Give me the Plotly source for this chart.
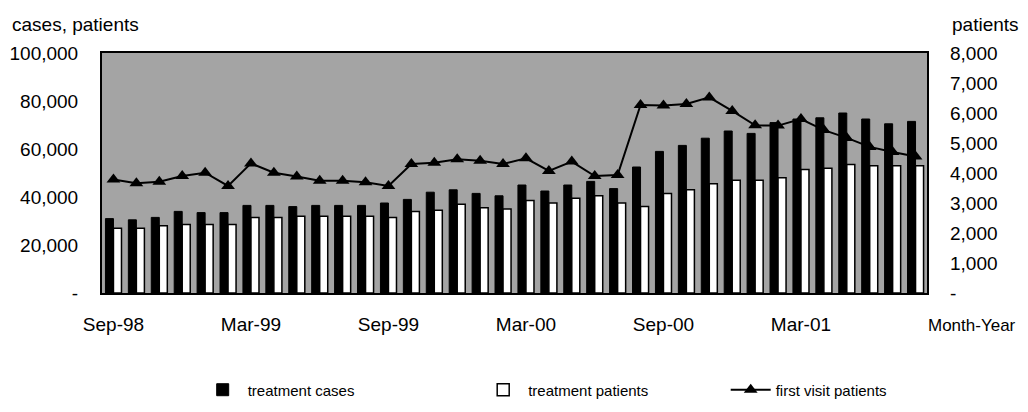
import plotly.graph_objects as go

months = ["Sep-98", "Oct-98", "Nov-98", "Dec-98", "Jan-99", "Feb-99",
          "Mar-99", "Apr-99", "May-99", "Jun-99", "Jul-99", "Aug-99",
          "Sep-99", "Oct-99", "Nov-99", "Dec-99", "Jan-00", "Feb-00",
          "Mar-00", "Apr-00", "May-00", "Jun-00", "Jul-00", "Aug-00",
          "Sep-00", "Oct-00", "Nov-00", "Dec-00", "Jan-01", "Feb-01",
          "Mar-01", "Apr-01", "May-01", "Jun-01", "Jul-01", "Aug-01"]

treatment_cases = [31000, 30500, 31500, 34000, 33500, 33500,
                   36500, 36500, 36000, 36500, 36500, 36500,
                   37500, 39000, 42000, 43000, 41500, 40500,
                   45000, 42500, 45000, 46500, 43500, 52500,
                   59000, 61500, 64500, 67500, 66500, 71000,
                   72500, 73000, 75000, 72500, 70500, 71500]

treatment_patients = [27000, 27000, 28000, 28500, 28500, 28500,
                      31500, 31500, 32000, 32000, 32000, 32000,
                      31500, 34000, 34500, 37000, 35500, 35000,
                      38500, 37500, 39500, 40500, 37500, 36000,
                      41500, 43000, 45500, 47000, 47000, 48000,
                      51500, 52000, 53500, 53000, 53000, 53000]

first_visit_patients = [3780, 3660, 3710, 3900, 4010, 3570,
                        4320, 4010, 3880, 3740, 3740, 3690,
                        3570, 4300, 4340, 4460, 4410, 4300,
                        4490, 4070, 4380, 3900, 3930, 6270,
                        6250, 6300, 6520, 6070, 5590, 5580,
                        5800, 5430, 5170, 4870, 4700, 4550]

x_tick_labels = ["Sep-98", "Mar-99", "Sep-99", "Mar-00", "Sep-00", "Mar-01"]
left_ticks = [0, 20000, 40000, 60000, 80000, 100000]
left_ticktext = ["-", "20,000", "40,000", "60,000", "80,000", "100,000"]
right_ticks = [0, 1000, 2000, 3000, 4000, 5000, 6000, 7000, 8000]
right_ticktext = ["-", "1,000", "2,000", "3,000", "4,000", "5,000", "6,000", "7,000", "8,000"]

FONT = "Liberation Sans, Arial, sans-serif"

fig = go.Figure()
fig.add_trace(go.Bar(x=months, y=treatment_cases, name="treatment cases",
                     legend="legend", showlegend=True,
                     marker=dict(color="black", line=dict(color="black", width=1))))
fig.add_trace(go.Bar(x=months, y=treatment_patients, name="treatment patients",
                     legend="legend2", showlegend=True,
                     marker=dict(color="white", line=dict(color="black", width=1.5))))
fig.add_trace(go.Scatter(x=months, y=first_visit_patients, name="first visit patients",
                         legend="legend3", showlegend=True,
                         yaxis="y2", mode="lines+markers",
                         line=dict(color="black", width=2),
                         marker=dict(symbol="triangle-up", size=12, color="black")))

legend_common = dict(orientation="h", y=-0.404, yanchor="middle", xanchor="left",
                     font=dict(size=15), bgcolor="rgba(0,0,0,0)", itemwidth=40,
                     visible=True)

fig.update_layout(
    width=1012, height=396,
    showlegend=True,
    margin=dict(l=94, r=93, t=45, b=111, autoexpand=False),
    paper_bgcolor="white",
    plot_bgcolor="#a4a4a4",
    barmode="group", bargap=0.3, bargroupgap=0.0,
    font=dict(family=FONT, size=20, color="black"),
    xaxis=dict(type="category", tickvals=x_tick_labels, ticktext=x_tick_labels,
               range=[-0.5, len(months) - 0.5],
               showline=True, linecolor="black", linewidth=2, mirror=True,
               showgrid=False, ticks="", ticklabelstandoff=13, automargin=False,
               tickfont=dict(size=19)),
    yaxis=dict(range=[0, 100000], tickvals=left_ticks, ticktext=left_ticktext,
               showline=True, linecolor="black", linewidth=2, mirror=True,
               showgrid=False, zeroline=False, ticks="", ticklabelstandoff=18,
               automargin=False, tickfont=dict(size=19)),
    yaxis2=dict(range=[0, 8000], tickvals=right_ticks, ticktext=right_ticktext,
                overlaying="y", side="right", showgrid=False, zeroline=False,
                ticks="", ticklabelstandoff=22, automargin=False,
                tickfont=dict(size=19)),
    legend=dict(x=0.116, **legend_common),
    legend2=dict(x=0.456, **legend_common),
    legend3=dict(x=0.756, **legend_common),
    annotations=[
        dict(text="cases, patients", xref="paper", yref="paper", x=-0.112, y=1.12,
             xanchor="left", yanchor="middle", showarrow=False, font=dict(size=19)),
        dict(text="patients", xref="paper", yref="paper", x=1.028, y=1.12,
             xanchor="left", yanchor="middle", showarrow=False, font=dict(size=19)),
        dict(text="Month-Year", xref="paper", yref="paper", x=1.110, y=-0.135,
             xanchor="right", yanchor="middle", showarrow=False, font=dict(size=17)),
    ],
)

fig.write_html("out.html")
